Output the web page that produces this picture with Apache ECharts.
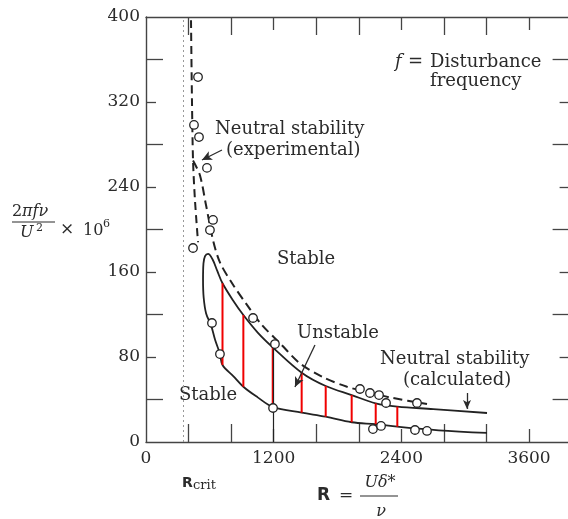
<!DOCTYPE html>
<html>
<head>
<meta charset="utf-8">
<script src="https://cdn.jsdelivr.net/npm/echarts@6/dist/echarts.min.js"></script>
<style>
html,body{margin:0;padding:0;background:#fff;}
#chart{width:568px;height:519px;}
</style>
</head>
<body>
<div id="chart"></div>
<script>
// ---- axis ticks ----
const xTickLabels = [0, 1200, 2400, 3600];
const xMajorTicks = [1200, 2400, 3600];
const xMinorTicks = [400, 800, 1600, 2000, 2800, 3200];
const yTickLabels = [0, 80, 160, 240, 320, 400];
const yMajorTicks = [80, 160, 240, 320];
const yMinorTicks = [40, 120, 200, 280, 360];
const RCRIT = 350;

// ---- calculated neutral stability curve (loop: upper branch -> nose -> lower branch) ----
const calcR = [3205, 2700, 2362, 2159, 1933, 1689, 1463, 1191, 1050, 915, 820, 719, 670, 625, 583, 555, 540, 536, 542, 565, 611, 650, 695, 719, 820, 915, 1050, 1191, 1463, 1689, 1933, 2159, 2362, 2750, 3205];
const calcV = [27.3, 31, 33.3, 36.4, 44.2, 52.7, 65.2, 89.1, 103, 119.5, 133, 149.4, 161, 172, 177, 175, 168, 153, 136, 121, 110, 96, 83, 72.5, 62, 52, 42, 33, 27.6, 23.8, 18.6, 16.7, 14.4, 11, 8.5];

// ---- experimental neutral stability (dashed) ----
const expAR = [423, 432, 442, 460, 489];
const expAV = [397, 322, 265, 228, 188];
const expBR = [442, 507, 564, 630, 695, 818, 949, 1090, 1259, 1447, 1663, 1889, 2077, 2321, 2641];
const expBV = [265, 251, 223, 190, 169, 148, 129, 110, 93, 74, 61, 52, 47, 41.4, 35.8];

// ---- measured points ----
const ptR = [489, 451, 498, 573, 630, 601, 442, 620, 695, 1006, 1212, 1194, 2011, 2105, 2190, 2256, 2547, 2133, 2209, 2528, 2641];
const ptV = [343.5, 298.4, 287, 258, 209, 199.5, 182.6, 112, 82.8, 116.7, 92.2, 32, 49.9, 46.1, 44.2, 36.7, 36.7, 12.2, 15.1, 11.3, 10.4];

// ---- red hatching of unstable region ----
const hatchR = [719, 915, 1191, 1463, 1689, 1933, 2159, 2362];
const hatchLow = [72.5, 52, 34, 27.6, 23.8, 18.6, 16.7, 14.4];
const hatchHigh = [149.4, 119.5, 89.1, 65.2, 52.7, 44.2, 36.4, 33.3];

const zip = (a, b) => a.map((v, i) => [v, b[i]]);
const INK = '#2b2b2b';
const AX = '#444';
const SERIF = 'DejaVu Serif';

function xAx(pos, ticks, len, withLine, labels) {
  return {
    type: 'value', position: pos, min: 0, max: 4000,
    axisLine: {show: withLine, onZero: false, lineStyle: {color: AX, width: 1.4}},
    axisTick: {show: true, inside: true, length: len, customValues: ticks, lineStyle: {color: AX, width: 1.3}},
    axisLabel: labels ? {show: true, customValues: labels, margin: 8, color: INK, fontFamily: SERIF, fontSize: 17,
      formatter: v => String(v)} : {show: false},
    splitLine: {show: false}
  };
}
function yAx(pos, ticks, len, withLine, labels) {
  return {
    type: 'value', position: pos, min: 0, max: 400,
    axisLine: {show: withLine, onZero: false, lineStyle: {color: AX, width: 1.4}},
    axisTick: {show: true, inside: true, length: len, customValues: ticks, lineStyle: {color: AX, width: 1.3}},
    axisLabel: labels ? {show: true, customValues: labels, margin: 6, color: INK, fontFamily: SERIF, fontSize: 17,
      formatter: v => String(v)} : {show: false},
    splitLine: {show: false}
  };
}

const chart = echarts.init(document.getElementById('chart'), null, {renderer: 'canvas'});

const arrowStyle = {color: INK, width: 1.3, type: 'solid'};

function txt(x, y, text, size) {
  return {type: 'text', x: x, y: y, silent: true,
    style: {text: text, font: (size || 18) + 'px "' + SERIF + '"', fill: INK, align: 'left', verticalAlign: 'middle'}};
}
function txtF(x, y, text, font, align) {
  return {type: 'text', x: x, y: y, silent: true,
    style: {text: text, font: font, fill: INK, align: align || 'left', verticalAlign: 'middle'}};
}

chart.setOption({
  animation: false,
  backgroundColor: '#fff',
  grid: {left: 146, top: 17, width: 425.6, height: 425, containLabel: false, outerBoundsMode: 'none'},
  xAxis: [
    xAx('bottom', xMajorTicks, 13, true, xTickLabels),
    xAx('bottom', xMinorTicks, 18, false, null),
    xAx('top', xMajorTicks, 13, true, null),
    xAx('top', xMinorTicks, 18, false, null)
  ],
  yAxis: [
    yAx('left', yMajorTicks, 10, true, yTickLabels),
    yAx('left', yMinorTicks, 17, false, null),
    yAx('right', yMajorTicks, 12, false, null),
    yAx('right', yMinorTicks, 19, false, null)
  ],
  series: [
    {
      type: 'line', name: 'calc', xAxisIndex: 0, yAxisIndex: 0,
      data: zip(calcR, calcV), smooth: 0.35, symbol: 'none',
      lineStyle: {color: '#222', width: 1.8}, z: 3,
      markLine: {
        silent: true, animation: false, symbol: ['none', 'none'],
        label: {show: false},
        data: [
          {xAxis: RCRIT, lineStyle: {color: '#999', width: 1, type: [2, 3]}},
          [{coord: [1200, 92], symbol: 'none', lineStyle: {color: '#222', width: 1.2, type: 'solid'}}, {coord: [1200, 0], symbol: 'none'}],
          [{coord: [714, 274.8], symbol: 'none', lineStyle: arrowStyle}, {coord: [526, 265.4], symbol: 'arrow', symbolSize: [7, 10]}],
          [{coord: [1588, 91.3], symbol: 'none', lineStyle: arrowStyle}, {coord: [1400, 51.8], symbol: 'arrow', symbolSize: [7, 10]}],
          [{coord: [3017, 46.1], symbol: 'none', lineStyle: arrowStyle}, {coord: [3017, 31.1], symbol: 'arrow', symbolSize: [6, 9]}]
        ]
      }
    },
    {
      type: 'line', name: 'expA', data: zip(expAR, expAV), smooth: 0.3, symbol: 'none',
      lineStyle: {color: '#222', width: 2, type: [8, 5]}, z: 3
    },
    {
      type: 'line', name: 'expB', data: zip(expBR, expBV), smooth: 0.3, symbol: 'none',
      lineStyle: {color: '#222', width: 2, type: [9, 5]}, z: 3
    },
    {
      type: 'custom', name: 'hatch',
      data: hatchR.map((r, i) => [r, hatchLow[i], hatchHigh[i]]),
      encode: {x: 0, y: [1, 2]},
      z: 4,
      renderItem: function (params, api) {
        const p1 = api.coord([api.value(0), api.value(1)]);
        const p2 = api.coord([api.value(0), api.value(2)]);
        return {type: 'line', shape: {x1: p1[0], y1: p1[1], x2: p2[0], y2: p2[1]},
          style: {stroke: '#f00000', lineWidth: 2}};
      }
    },
    {
      type: 'scatter', name: 'points', data: zip(ptR, ptV), symbol: 'circle', symbolSize: 8.5,
      itemStyle: {color: '#fff', borderColor: '#222', borderWidth: 1.3, opacity: 1}, z: 6
    }
  ],
  graphic: [
    txt(215, 129, 'Neutral stability', 18),
    txt(226, 150, '(experimental)', 18),
    txt(277, 259, 'Stable', 18),
    txt(297, 333, 'Unstable', 18),
    txt(179, 395, 'Stable', 18),
    txt(380, 359, 'Neutral stability', 18),
    txt(403, 380, '(calculated)', 18),
    txtF(395, 62, 'f', 'italic 18px "' + SERIF + '"'),
    txtF(408, 62, '=', '18px "' + SERIF + '"'),
    txt(430, 62, 'Disturbance', 18),
    txt(430, 81, 'frequency', 18),
    // y-axis title
    txtF(12, 212, '2', '16px "' + SERIF + '"'),
    txtF(22, 212, 'πfν', 'italic 16px "' + SERIF + '"'),
    {type: 'line', silent: true, shape: {x1: 12, y1: 222, x2: 55, y2: 222}, style: {stroke: INK, lineWidth: 1.1}},
    txtF(20, 233, 'U', 'italic 16px "' + SERIF + '"'),
    txtF(36, 228, '2', '11px "' + SERIF + '"'),
    txtF(60, 230, '×', '17px "' + SERIF + '"'),
    txtF(83, 231, '10', '16px "' + SERIF + '"'),
    txtF(103, 224, '6', '11px "' + SERIF + '"'),
    // x-axis title
    txtF(317, 496, 'R', 'bold 17px "DejaVu Sans"'),
    txtF(339, 496, '=', '17px "' + SERIF + '"'),
    txtF(380, 483, 'Uδ*', 'italic 16px "' + SERIF + '"', 'center'),
    {type: 'line', silent: true, shape: {x1: 360, y1: 496, x2: 398, y2: 496}, style: {stroke: INK, lineWidth: 1.1}},
    txtF(381, 512, 'ν', 'italic 16px "' + SERIF + '"', 'center'),
    // R_crit
    txtF(182, 483, 'R', 'bold 14px "DejaVu Sans"'),
    txtF(193, 486, 'crit', '13px "' + SERIF + '"')
  ]
});
</script>
</body>
</html>
